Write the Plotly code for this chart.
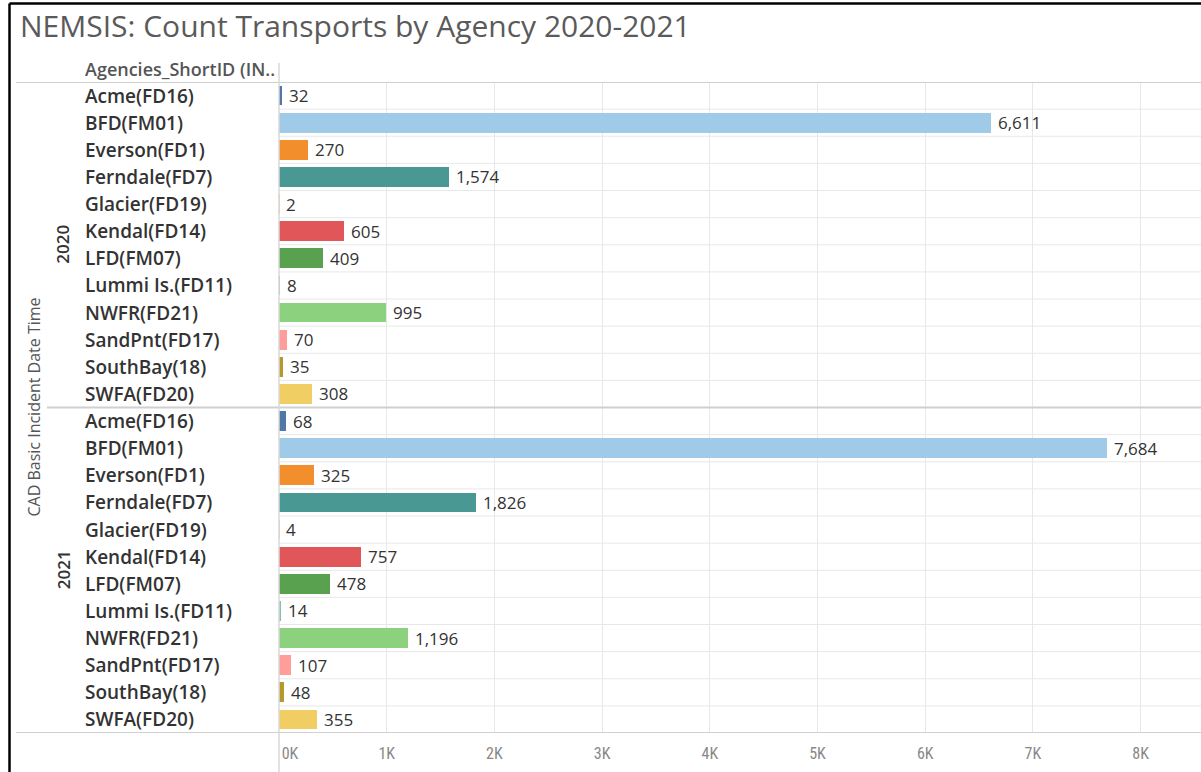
import plotly.graph_objects as go

# ---------------- data ----------------
years = ["2020", "2021"]
agencies = [
    "Acme(FD16)", "BFD(FM01)", "Everson(FD1)", "Ferndale(FD7)", "Glacier(FD19)",
    "Kendal(FD14)", "LFD(FM07)", "Lummi Is.(FD11)", "NWFR(FD21)", "SandPnt(FD17)",
    "SouthBay(18)", "SWFA(FD20)",
]
counts_2020 = [32, 6611, 270, 1574, 2, 605, 409, 8, 995, 70, 35, 308]
counts_2021 = [68, 7684, 325, 1826, 4, 757, 478, 14, 1196, 107, 48, 355]
tick_values = [0, 1000, 2000, 3000, 4000, 5000, 6000, 7000, 8000]
tick_labels = ["0K", "1K", "2K", "3K", "4K", "5K", "6K", "7K", "8K"]

title_text = "NEMSIS: Count Transports by Agency 2020-2021"
header_text = "Agencies_ShortID (IN.."
row_axis_title = "CAD Basic Incident Date Time"

agency_colors = [
    "#4e79a7", "#a0cbe8", "#f28e2b", "#499894", "#ffbe7d", "#e15759",
    "#59a14f", "#86bcb6", "#8cd17d", "#ff9d9a", "#b6992d", "#f1ce63",
]

# ---------------- layout geometry (pixels) ----------------
W, H = 1201, 772
L, R, T, B = 279, 0, 82, 39
PW, PH = W - L - R, H - T - B
X_MAX = 8561


def px2x(px):
    return (px - L) / PW


def py2y(py):
    return (H - B - py) / PH


counts_by_year = [counts_2020, counts_2021]
n_ag = len(agencies)

rows_y, rows_x, rows_c, rows_lab = [], [], [], []
for gi, yr in enumerate(years):
    for ai, ag in enumerate(agencies):
        rows_y.append(gi * n_ag + ai)
        rows_x.append(counts_by_year[gi][ai])
        rows_c.append(agency_colors[ai])
        rows_lab.append(ag)

fig = go.Figure()
fig.add_trace(go.Bar(
    x=rows_x, y=rows_y, orientation="h",
    marker=dict(color=rows_c, line=dict(width=0)),
    width=0.73, hoverinfo="x+y", showlegend=False,
))

FONT = "Open Sans"
annotations = []
# value labels
for yv, xv in zip(rows_y, rows_x):
    annotations.append(dict(
        x=xv, y=yv, xref="x", yref="y", text=f"{xv:,}", showarrow=False,
        xanchor="left", yanchor="middle", xshift=5,
        font=dict(family=FONT, size=17, color="#333333"),
    ))
# agency labels
for yv, lab in zip(rows_y, rows_lab):
    annotations.append(dict(
        x=px2x(83), y=yv, xref="paper", yref="y", text=lab, showarrow=False,
        xanchor="left", yanchor="middle",
        font=dict(family=FONT, size=19, color="#333333", weight=600),
    ))
# year labels
for gi, yr in enumerate(years):
    annotations.append(dict(
        x=px2x(63), y=gi * n_ag + (n_ag - 1) / 2, xref="paper", yref="y",
        text=yr, showarrow=False, textangle=-90,
        xanchor="center", yanchor="middle",
        font=dict(family=FONT, size=17, color="#333333", weight=600),
    ))
annotations.append(dict(
    x=px2x(33), y=n_ag - 0.5, xref="paper", yref="y", text=row_axis_title,
    showarrow=False, textangle=-90, xanchor="center", yanchor="middle",
    font=dict(family=FONT, size=16, color="#555555"),
))
annotations.append(dict(
    x=px2x(83), y=py2y(69), xref="paper", yref="paper", text=header_text,
    showarrow=False, xanchor="left", yanchor="middle",
    font=dict(family=FONT, size=18, color="#555555", weight=600),
))
annotations.append(dict(
    x=px2x(18), y=py2y(25), xref="paper", yref="paper", text=title_text,
    showarrow=False, xanchor="left", yanchor="middle",
    font=dict(family=FONT, size=30, color="#5a5a5a"),
))

shapes = []
# thin row separators in the plot area
for i in range(len(rows_y) - 1):
    if i == n_ag - 1:
        continue
    shapes.append(dict(type="line", xref="paper", yref="y", x0=0, x1=1,
                       y0=i + 0.5, y1=i + 0.5,
                       line=dict(color="#e8e8e8", width=1)))
# group separator
shapes.append(dict(type="line", xref="paper", yref="y", x0=px2x(47), x1=1,
                   y0=n_ag - 0.5, y1=n_ag - 0.5,
                   line=dict(color="#d0d0d0", width=2)))
# header & bottom lines
for yy in (-0.5, 2 * n_ag - 0.5):
    shapes.append(dict(type="line", xref="paper", yref="y", x0=px2x(16), x1=1,
                       y0=yy, y1=yy, line=dict(color="#d0d0d0", width=2)))
# vertical divider at zero
shapes.append(dict(type="line", xref="paper", yref="paper", x0=0, x1=0,
                   y0=py2y(63), y1=py2y(H), line=dict(color="#d9d9d9", width=1.5)))
# outer black frame (top & left)
shapes.append(dict(type="line", xref="paper", yref="paper", x0=px2x(9.5), x1=px2x(W + 5),
                   y0=py2y(3.5), y1=py2y(3.5), line=dict(color="#000000", width=2.5)))
shapes.append(dict(type="line", xref="paper", yref="paper", x0=px2x(9.5), x1=px2x(9.5),
                   y0=py2y(3.5), y1=py2y(H + 5), line=dict(color="#000000", width=2.5)))

tick_text = ["\u00a0\u00a0\u00a0\u00a0\u00a0\u00a0" + tick_labels[0]] + tick_labels[1:]

fig.update_layout(
    width=W, height=H,
    margin=dict(l=L, r=R, t=T, b=B, pad=0),
    paper_bgcolor="white", plot_bgcolor="white",
    xaxis=dict(
        range=[0, X_MAX], tickvals=tick_values, ticktext=tick_text,
        showgrid=True, gridcolor="#e8e8e8", gridwidth=1,
        zeroline=False, showline=False, ticks="",
        tickfont=dict(family="Liberation Sans Narrow, Roboto Condensed, Roboto", size=16, color="#888888"),
        ticklabelstandoff=9, fixedrange=True,
    ),
    yaxis=dict(
        range=[2 * n_ag - 0.5, -0.5], showticklabels=False, showgrid=False,
        zeroline=False, showline=False, ticks="", fixedrange=True,
    ),
    annotations=annotations,
    shapes=shapes,
    bargap=0,
)

fig.write_html("out.html")
